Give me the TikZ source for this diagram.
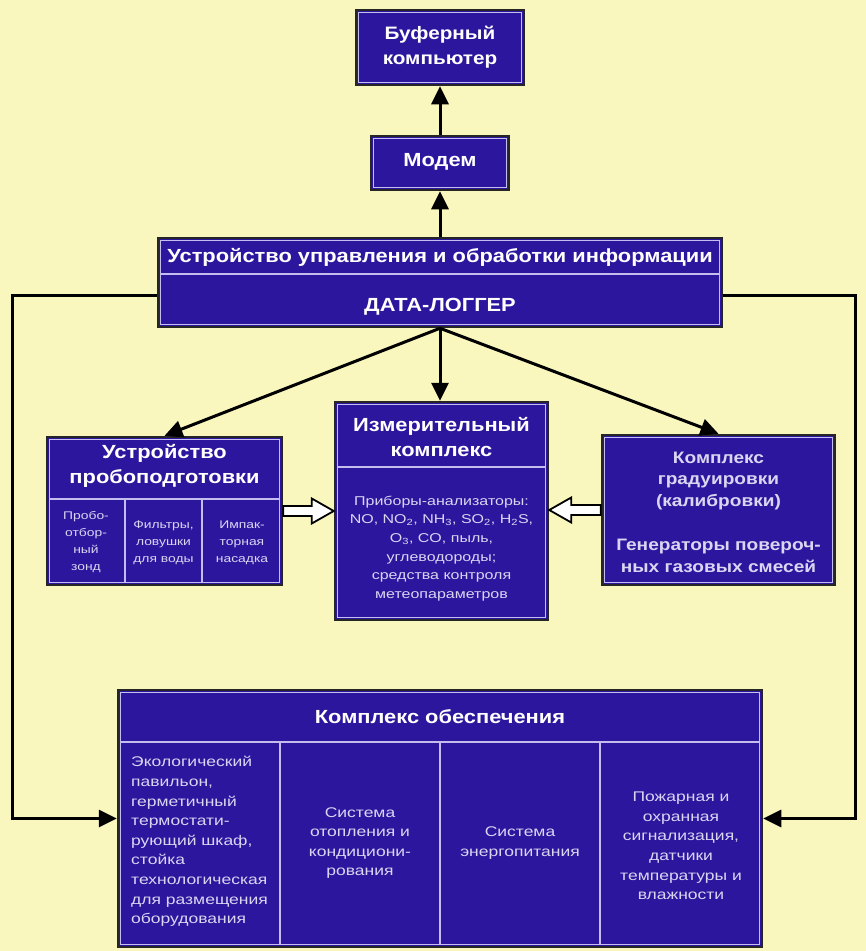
\documentclass[tikz,border=0pt]{standalone}
\usepackage{fontspec}
\setmainfont{Liberation Sans}
\newfontfamily\wf[FakeStretch=1.15]{Liberation Sans}
\newfontfamily\bodyfnt[FakeStretch=1.25]{Liberation Sans}
\usetikzlibrary{arrows.meta,calc}
\definecolor{bg}{RGB}{250,247,190}
\definecolor{bx}{RGB}{44,22,158}
\definecolor{lav}{RGB}{196,190,240}
\definecolor{txt}{RGB}{218,214,242}
\tikzset{
  box/.style={draw=black!85, line width=2.5pt, fill=bx, inner sep=0pt,
    path picture={\draw[lav, line width=1.6pt]
      ([shift={(2.4pt,2.4pt)}]path picture bounding box.south west) rectangle
      ([shift={(-2.4pt,-2.4pt)}]path picture bounding box.north east);}},
  div/.style={draw=lav, line width=1.8pt},
  ttl/.style={text=white, font=\wf\bfseries\fontsize{19}{25}\selectfont, align=center, inner sep=0pt},
  sub/.style={text=txt, font=\wf\bfseries\fontsize{16.6}{21.5}\selectfont, align=center, inner sep=0pt},
  bod/.style={text=txt, font=\bodyfnt\fontsize{14}{19.6}\selectfont, align=center, inner sep=0pt},
  sml/.style={text=txt, font=\bodyfnt\fontsize{11.1}{16.8}\selectfont, align=center, inner sep=0pt},
  arr/.style={draw=black, line width=3pt, -{Triangle[length=18pt,width=17pt]}},
  fat/.style={draw=black, line width=1.8pt, fill=white, line join=miter}
}
\newcommand\fatarr[2]{%
  \coordinate (hh) at ($(#2)!22pt!(#1)$);
  \draw[fat] ($(#1)!5pt!90:(#2)$) -- ($(hh)!5pt!90:(#2)$) -- ($(hh)!12.5pt!90:(#2)$) -- (#2)
    -- ($(hh)!12.5pt!-90:(#2)$) -- ($(hh)!5pt!-90:(#2)$) -- ($(#1)!5pt!-90:(#2)$) -- cycle;}
\begin{document}
\begin{tikzpicture}[x=1pt,y=-1pt]
\useasboundingbox (0,0) rectangle (866,951);
\fill[bg] (0,0) rectangle (866,951);

% boxes
\node[box, minimum width=168pt, minimum height=75pt] (buf) at (440,47.5) {};
\node[box, minimum width=138pt, minimum height=54pt] (mod) at (440,163) {};
\node[box, minimum width=564pt, minimum height=89pt] (dl) at (440,282.5) {};
\node[box, minimum width=235pt, minimum height=148pt] (lb) at (164.5,511) {};
\node[box, minimum width=213pt, minimum height=218pt] (cb) at (441.5,511) {};
\node[box, minimum width=233pt, minimum height=150pt] (rb) at (718.5,510) {};
\node[box, minimum width=644pt, minimum height=257pt] (bb) at (440,818.5) {};

% dividers
\draw[div] (161,274) -- (719,274);
\draw[div] (50,499) -- (279,499);
\draw[div] (125,499) -- (125,582);
\draw[div] (202,499) -- (202,582);
\draw[div] (338,467) -- (545,467);
\draw[div] (121,742) -- (759,742);
\draw[div] (280,742) -- (280,944);
\draw[div] (440,742) -- (440,944);
\draw[div] (600,742) -- (600,944);

% texts
\node[ttl, font=\wf\bfseries\fontsize{18}{25}\selectfont] (buft) at (440,47.5) {Буферный\\компьютер};
\node[ttl] (modt) at (440,162) {Модем};
\node[ttl] (dlt1) at (440,257) {Устройство управления и обработки информации};
\node[ttl] (dlt2) at (440,307) {ДАТА-ЛОГГЕР};
\node[ttl] (lbt) at (164.5,466) {Устройство\\пробоподготовки};
\node[sml] (lb1) at (86,542) {Пробо-\\отбор-\\ный\\зонд};
\node[sml] (lb2) at (163.5,543) {Фильтры,\\ловушки\\для воды};
\node[sml] (lb3) at (242,543) {Импак-\\торная\\насадка};
\node[ttl] (cbt) at (441.5,437.5) {Измерительный\\комплекс};
\node[bod, font=\bodyfnt\fontsize{12.8}{18.7}\selectfont] (cbb) at (441.5,548.5)
  {Приборы-анализаторы:\\NO, NO\textsubscript{2}, NH\textsubscript{3}, SO\textsubscript{2}, H\textsubscript{2}S,\\O\textsubscript{3}, CO, пыль,\\углеводороды;\\средства контроля\\метеопараметров};
\node[sub] (rbt) at (718.5,481) {Комплекс\\градуировки\\(калибровки)};
\node[sub] (rbb) at (718.5,556) {Генераторы повероч-\\ных газовых смесей};
\node[ttl] (bbt) at (440,717) {Комплекс обеспечения};
\node[bod, anchor=west, align=left] (bb1) at (131,841.5) {Экологический\\павильон,\\герметичный\\термостати-\\рующий шкаф,\\стойка\\технологическая\\для размещения\\оборудования};
\node[bod] (bb2) at (360,843) {Система\\отопления и\\кондициони-\\рования};
\node[bod] (bb3) at (520,843) {Система\\энергопитания};
\node[bod] (bb4) at (681,846) {Пожарная и\\охранная\\сигнализация,\\датчики\\температуры и\\влажности};

% connectors
\draw[arr] (mod.north) -- (buf.south);
\draw[arr] (dl.north) -- (mod.south);
\draw[arr] (dl.south) -- (lb.north);
\draw[arr] (dl.south) -- (cb.north -| dl.south);
\draw[arr] (dl.south) -- (rb.north);
\coordinate (lc) at (12,295);
\coordinate (rc) at (855,295);
\draw[arr] (dl.west |- lc) -- (lc) |- (bb.west);
\draw[arr] (dl.east |- rc) -- (rc) |- (bb.east);

\coordinate (f1a) at (lb.east);
\coordinate (f1b) at (cb.west |- lb.east);
\fatarr{f1a}{f1b}
\coordinate (f2a) at (rb.west);
\coordinate (f2b) at (cb.east |- rb.west);
\fatarr{f2a}{f2b}
\end{tikzpicture}
\end{document}
